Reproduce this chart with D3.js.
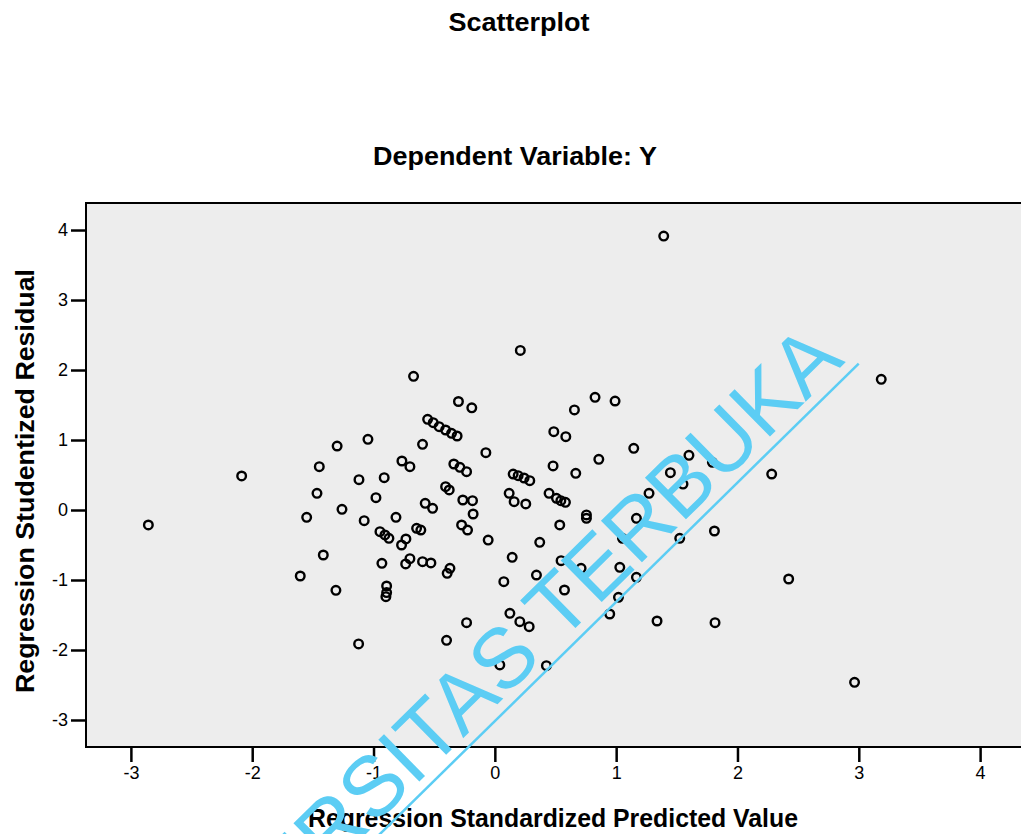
<!DOCTYPE html>
<html>
<head>
<meta charset="utf-8">
<script src="https://cdn.jsdelivr.net/npm/d3@7"></script>
<style>
  body { margin: 0; background: #fff; }
  text { font-family: Arial, "Liberation Sans", sans-serif; }
</style>
</head>
<body>
<div id="chart"></div>
<script>
// predicted (x) vs studentized residual (y)
var predicted = [-2.856, -2.087, -1.604, -1.551, -1.447, -1.466, -1.414, -1.31, -1.30, -1.26,
  -1.123, -1.12, -1.077, -1.046, -0.98, -0.912, -0.947, -0.906, -0.873, -0.931,
  -0.892, -0.892, -0.898, -0.815, -0.766, -0.70, -0.733, -0.769, -0.735, -0.70,
  -0.67, -0.645, -0.61, -0.596, -0.596, -0.527, -0.574, -0.513, -0.554, -0.508,
  -0.459, -0.406, -0.357, -0.311, -0.406, -0.376, -0.37, -0.393, -0.398, -0.338,
  -0.288, -0.233, -0.30, -0.19, -0.274, -0.225, -0.264, -0.184, -0.179, -0.233,
  -0.074, -0.055, 0.041, 0.074, 0.118, 0.159, 0.255, 0.143, 0.124, 0.206,
  0.283, 0.21, 0.151, 0.192, 0.241, 0.288, 0.343, 0.37, 0.425, 0.447,
  0.486, 0.48, 0.508, 0.544, 0.582, 0.535, 0.546, 0.574, 0.585, 0.656,
  0.667, 0.711, 0.755, 0.755, 0.826, 0.857, 0.947, 0.991, 1.019, 1.03,
  1.052, 1.145, 1.167, 1.167, 1.271, 1.337, 1.392, 1.447, 1.551, 1.524,
  1.60, 1.793, 1.81, 1.815, 2.282, 2.422, 2.965, 3.185]
var residual = [-0.214, 0.486, -0.943, -0.105, 0.619, 0.238, -0.643, -1.148, 0.914, 0.01,
  -1.914, 0.433, -0.152, 1.01, 0.176, 0.462, -0.31, -0.357, -0.405, -0.762,
  -1.086, -1.18, -1.238, -0.105, 0.70, 0.619, -0.414, -0.50, -0.771, -0.696,
  1.91, -0.262, -0.286, 0.938, -0.738, -0.757, 0.095, 0.024, 1.296, 1.247,
  1.19, 1.143, 1.095, 1.057, 0.333, 0.286, -0.833, -0.905, -1.862, 0.657,
  0.61, 0.547, 1.55, 1.46, -0.214, -0.286, 0.143, 0.133, -0.057, -1.61,
  0.819, -0.43, -2.214, -1.024, 0.238, 0.119, 0.086, -0.676, -1.476, -1.595,
  -1.667, 2.28, 0.514, 0.49, 0.457, 0.419, -0.929, -0.462, -2.224, 0.238,
  1.119, 0.629, 0.167, 0.133, 0.11, -0.214, -0.724, -1.143, 1.048, 1.429,
  0.524, -0.833, -0.071, -0.119, 1.61, 0.724, -1.486, 1.557, -1.248, -0.819,
  -0.405, 0.881, -0.119, -0.962, 0.238, -1.586, 3.914, 0.533, 0.371, -0.405,
  0.781, 0.681, -0.30, -1.61, 0.514, -0.986, -2.462, 1.867]

var xTicks = [-3, -2, -1, 0, 1, 2, 3, 4]
var yTicks = [-3, -2, -1, 0, 1, 2, 3, 4]

var width = 1021, height = 834
var plot = {left: 86, right: 1025, top: 203, bottom: 747}

var svg = d3.select("#chart")
  .append("svg")
    .attr("width", width)
    .attr("height", height)

var x = d3.scaleLinear()
  .domain([-3.37, 4.37])
  .range([plot.left, plot.right])

var y = d3.scaleLinear()
  .domain([-3.386, 4.386])
  .range([plot.bottom, plot.top])

// plot background
svg.append("rect")
  .attr("x", plot.left)
  .attr("y", plot.top)
  .attr("width", plot.right - plot.left)
  .attr("height", plot.bottom - plot.top)
  .attr("fill", "#ededed")

// axes (plain hyphen minus like the original)
var fmt = d => String(d)
var xAxis = svg.append("g")
  .attr("transform", "translate(0," + plot.bottom + ")")
  .call(d3.axisBottom(x).tickValues(xTicks).tickSize(15).tickPadding(4).tickFormat(fmt))
var yAxis = svg.append("g")
  .attr("transform", "translate(" + plot.left + ",0)")
  .call(d3.axisLeft(y).tickValues(yTicks).tickSize(15).tickPadding(3).tickFormat(fmt))

;[xAxis, yAxis].forEach(function (g) {
  g.attr("font-size", null).attr("font-family", null)
  g.select(".domain").remove()
  g.selectAll(".tick line").attr("stroke", "#000").attr("stroke-width", 2.5)
  g.selectAll(".tick text")
    .attr("fill", "#000")
    .style("font-size", "18px")
})

// frame
svg.append("rect")
  .attr("x", plot.left)
  .attr("y", plot.top)
  .attr("width", plot.right - plot.left)
  .attr("height", plot.bottom - plot.top)
  .attr("fill", "none")
  .attr("stroke", "#000")
  .attr("stroke-width", 2)

// points
svg.append("g")
  .selectAll("circle")
  .data(d3.zip(predicted, residual))
  .join("circle")
    .attr("cx", d => x(d[0]))
    .attr("cy", d => y(d[1]))
    .attr("r", 4.3)
    .attr("fill", "none")
    .attr("stroke", "#000")
    .attr("stroke-width", 2.4)

// titles
function title(xp, yp, len, size, label, rot) {
  svg.append("text")
    .attr("transform", "translate(" + xp + "," + yp + ")" + (rot ? " rotate(-90)" : ""))
    .attr("text-anchor", "middle")
    .attr("textLength", len)
    .attr("lengthAdjust", "spacingAndGlyphs")
    .style("font-size", size + "px").style("font-weight", "bold")
    .text(label)
}
title(519, 31, 141, 25, "Scatterplot")
title(515, 165, 284, 26, "Dependent Variable: Y")
title(553, 827, 490, 26, "Regression Standardized Predicted Value")
title(34, 481, 424, 25, "Regression Studentized Residual", true)

// watermark
var wm = svg.append("g")
  .attr("transform", "translate(846,362) rotate(-44.5)")
wm.append("text")
  .attr("x", 0).attr("y", 0)
  .attr("text-anchor", "end")
  .attr("fill", "#5ccdf4")
  .style("font-size", "85px")
  .text("UNIVERSITAS TERBUKA")
wm.append("line")
  .attr("x1", -1200).attr("x2", 8)
  .attr("y1", 10).attr("y2", 10)
  .attr("stroke", "#5ccdf4")
  .attr("stroke-width", 2.5)
</script>
</body>
</html>
